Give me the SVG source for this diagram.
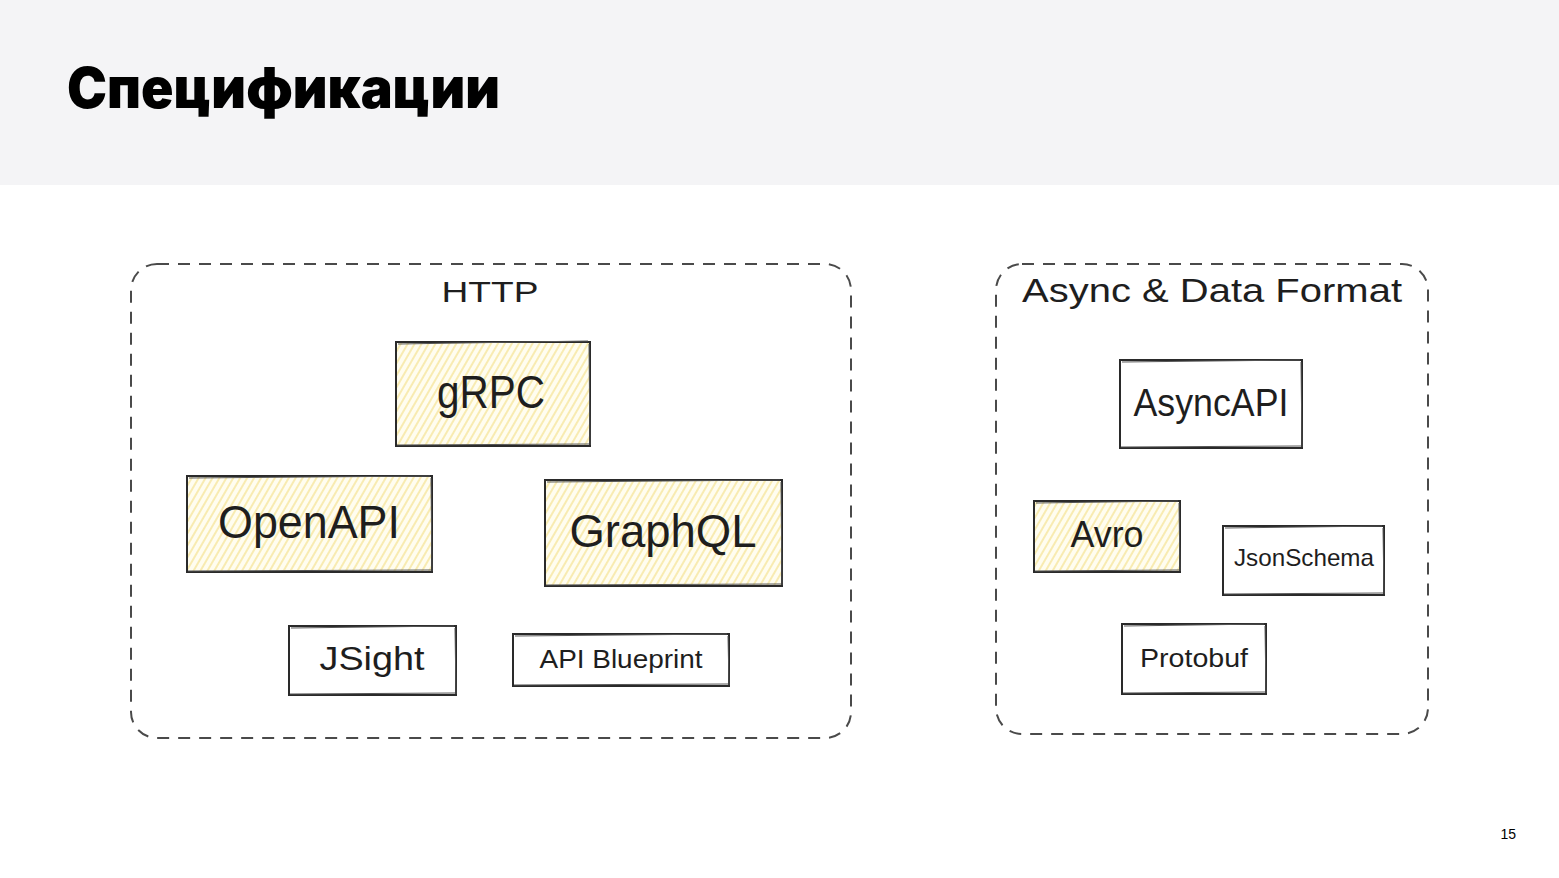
<svg xmlns="http://www.w3.org/2000/svg" width="1559" height="878" viewBox="0 0 1559 878">
<style>
.hand{font-family:"Liberation Sans","DejaVu Sans",sans-serif;fill:#1e1e1e;text-anchor:middle}
.box{fill:none;stroke:#2a2a2a;stroke-width:2}
.box2{fill:none;stroke:#555;stroke-width:1}
.grp{fill:none;stroke:#4a4a4a;stroke-width:2;stroke-dasharray:12 9}
.hat{fill:url(#hatch)}
</style>
<defs>
<pattern id="hatch" width="6" height="6" patternUnits="userSpaceOnUse" patternTransform="rotate(30)">
<rect width="6" height="6" fill="#fffdf0"/>
<line x1="3" y1="0" x2="3" y2="6" stroke="#f7e7a1" stroke-width="1.6"/>
</pattern>
</defs>
<rect x="0" y="0" width="1559" height="878" fill="#ffffff"/>
<rect x="0" y="0" width="1559" height="185" fill="#f4f4f6"/>
<text x="67" y="108" font-family="Inter,'Liberation Sans',sans-serif" font-weight="900" font-size="56" textLength="433" lengthAdjust="spacingAndGlyphs" fill="#000">Спецификации</text>
<text x="1516" y="839" font-family="'Liberation Sans',Arial,sans-serif" font-size="14" text-anchor="end" fill="#000">15</text>

<g id="group-http">
<rect class="grp" x="131" y="264" width="720" height="474" rx="26"/>
<text class="hand" x="490" y="302" font-size="30" textLength="97" lengthAdjust="spacingAndGlyphs">HTTP</text>
</g>
<g id="group-async">
<rect class="grp" x="996" y="264" width="432" height="470" rx="26"/>
<text class="hand" x="1212" y="302" font-size="34" textLength="380" lengthAdjust="spacingAndGlyphs">Async &amp; Data Format</text>
</g>

<g id="node-grpc">
<rect class="hat" x="396" y="342" width="194" height="104"/>
<rect class="box" x="396" y="342" width="194" height="104"/>
<path class="box2" d="M398 344 L588 341 M589 344 L590 445 M397 445 L589 444"/>
<text class="hand" x="491" y="408" font-size="46" textLength="108" lengthAdjust="spacingAndGlyphs">gRPC</text>
</g>
<g id="node-openapi">
<rect class="hat" x="187" y="476" width="245" height="96"/>
<rect class="box" x="187" y="476" width="245" height="96"/>
<path class="box2" d="M189 478 L430 476 M431 478 L432 571 M188 571 L431 570"/>
<text class="hand" x="309" y="538" font-size="46" textLength="182" lengthAdjust="spacingAndGlyphs">OpenAPI</text>
</g>
<g id="node-graphql">
<rect class="hat" x="545" y="480" width="237" height="106"/>
<rect class="box" x="545" y="480" width="237" height="106"/>
<path class="box2" d="M547 482 L780 480 M781 482 L782 585 M546 585 L781 584"/>
<text class="hand" x="663" y="547" font-size="46" textLength="187" lengthAdjust="spacingAndGlyphs">GraphQL</text>
</g>
<g id="node-jsight">
<rect class="box" x="289" y="626" width="167" height="69" fill="#fff"/>
<path class="box2" d="M291 628 L454 626 M455 628 L456 694 M290 694 L455 693"/>
<text class="hand" x="372" y="670" font-size="34" textLength="105" lengthAdjust="spacingAndGlyphs">JSight</text>
</g>
<g id="node-apiblueprint">
<rect class="box" x="513" y="634" width="216" height="52" fill="#fff"/>
<path class="box2" d="M515 636 L727 634 M728 636 L729 685 M514 685 L728 684"/>
<text class="hand" x="621" y="668" font-size="26" textLength="163" lengthAdjust="spacingAndGlyphs">API Blueprint</text>
</g>

<g id="node-asyncapi">
<rect class="box" x="1120" y="360" width="182" height="88" fill="#fff"/>
<path class="box2" d="M1122 362 L1300 360 M1301 362 L1302 447 M1121 447 L1301 446"/>
<text class="hand" x="1211" y="416" font-size="38" textLength="155" lengthAdjust="spacingAndGlyphs">AsyncAPI</text>
</g>
<g id="node-avro">
<rect class="hat" x="1034" y="501" width="146" height="71"/>
<rect class="box" x="1034" y="501" width="146" height="71"/>
<path class="box2" d="M1036 503 L1178 501 M1179 503 L1180 571 M1035 571 L1179 570"/>
<text class="hand" x="1107" y="547" font-size="36" textLength="73" lengthAdjust="spacingAndGlyphs">Avro</text>
</g>
<g id="node-jsonschema">
<rect class="box" x="1223" y="526" width="161" height="69" fill="#fff"/>
<path class="box2" d="M1225 528 L1382 526 M1383 528 L1384 594 M1224 594 L1383 593"/>
<text class="hand" x="1304" y="566" font-size="24" textLength="140" lengthAdjust="spacingAndGlyphs">JsonSchema</text>
</g>
<g id="node-protobuf">
<rect class="box" x="1122" y="624" width="144" height="70" fill="#fff"/>
<path class="box2" d="M1124 626 L1264 624 M1265 626 L1266 693 M1123 693 L1265 692"/>
<text class="hand" x="1194" y="667" font-size="26" textLength="108" lengthAdjust="spacingAndGlyphs">Protobuf</text>
</g>

<g id="connectors"></g>
</svg>
